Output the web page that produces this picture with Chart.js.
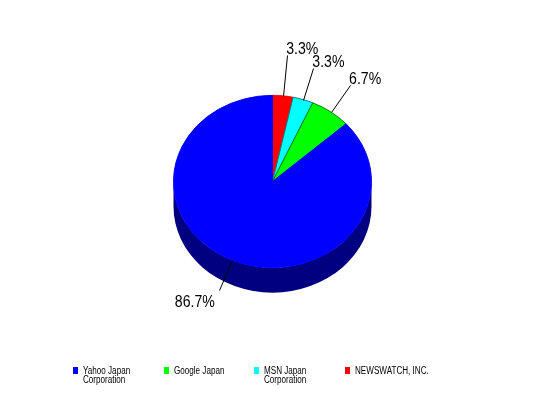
<!DOCTYPE html>
<html>
<head>
<meta charset="utf-8">
<script src="https://cdn.jsdelivr.net/npm/chart.js@4/dist/chart.umd.min.js"></script>
<style>
  html, body { margin: 0; padding: 0; background: #fff; }
  #wrap { width: 548px; height: 398px; }
</style>
</head>
<body>
<div id="wrap"><canvas id="c" width="548" height="398"></canvas></div>
<script>
// Share of responses per portal (30 in total)
const categories = ['Yahoo Japan Corporation', 'Google Japan', 'MSN Japan Corporation', 'NEWSWATCH, INC.'];
const counts = [26, 2, 1, 1];
const faceColors = ['#0000FF', '#00FF00', '#00FFFF', '#FF0000'];
const sideColors = ['#000080', '#008000', '#008080', '#800000'];
const edgeColors = ['#0000FF', '#007800', '#007878', '#FF0000'];

const total = counts.reduce((a, b) => a + b, 0);
const percentLabels = counts.map(v => (v / total * 100).toFixed(1) + '%');

// Slices run clockwise from 12 o'clock, starting with the last category
const drawOrder = categories.map((_, i) => i).reverse();
const pick = arr => drawOrder.map(i => arr[i]);

const TILT = 0.87;   // vertical squash of the top face
const DEPTH = 25;    // height of the pie's side wall
const LEADER = 33;   // default leader line length
const LABEL_FONT = '17px "Liberation Sans", Arial, sans-serif';
const LABEL_SX = 0.83;   // condensed look for the percentage labels
const LEGEND_FONT = '10px "Liberation Sans", Arial, sans-serif';
const LEGEND_SX = 0.81;

// draw text squeezed horizontally around its anchor point
function narrowText(ctx, text, x, y, align, sx) {
  ctx.save();
  ctx.translate(x, y);
  ctx.scale(sx, 1);
  ctx.textAlign = align;
  ctx.fillText(text, 0, 0);
  ctx.restore();
}

const pie3d = {
  id: 'pie3d',
  beforeDatasetsDraw(chart) {
    const arcs = chart.getDatasetMeta(0).data;
    if (!arcs.length) return;
    const ctx = chart.ctx;
    const cx = arcs[0].x, cy = arcs[0].y, r = arcs[0].outerRadius;
    const sides = pick(sideColors);
    // side wall: only the front half (0..PI) is visible
    arcs.forEach((arc, i) => {
      const s = arc.startAngle, e = arc.endAngle;
      for (const shift of [-2 * Math.PI, 0, 2 * Math.PI]) {
        const lo = Math.max(s, shift), hi = Math.min(e, Math.PI + shift);
        if (lo >= hi) continue;
        ctx.beginPath();
        ctx.ellipse(cx, cy, r, r * TILT, 0, lo, hi, false);
        ctx.ellipse(cx, cy + DEPTH, r, r * TILT, 0, hi, lo, true);
        ctx.closePath();
        ctx.fillStyle = sides[i];
        ctx.fill();
      }
    });
    // squash the top face into an ellipse
    ctx.save();
    ctx.translate(cx, cy);
    ctx.scale(1, TILT);
    ctx.translate(-cx, -cy);
  },
  afterDatasetsDraw(chart) {
    const ctx = chart.ctx;
    ctx.restore();
    const arcs = chart.getDatasetMeta(0).data;
    if (!arcs.length) return;
    const cx = arcs[0].x, cy = arcs[0].y, r = arcs[0].outerRadius;
    const texts = chart.data.datasets[0].percentText;

    ctx.save();
    ctx.font = LABEL_FONT;
    ctx.fillStyle = '#000';
    ctx.strokeStyle = '#000';
    ctx.lineWidth = 1;
    ctx.textBaseline = 'alphabetic';

    const placed = [];
    const overlaps = (a, b) => a.x1 < b.x2 && a.x2 > b.x1 && a.y1 < b.y2 && a.y2 > b.y1;
    // place labels from the last slice backwards, lengthening leaders on collision
    for (let i = arcs.length - 1; i >= 0; i--) {
      const arc = arcs[i];
      const m = (arc.startAngle + arc.endAngle) / 2;
      const c = Math.cos(m), s = Math.sin(m);
      const px = cx + r * c, py = cy + r * TILT * s;
      const w = ctx.measureText(texts[i]).width * LABEL_SX;
      const h = 13;
      let len = LEADER, lab;
      for (let k = 0; k < 60; k++) {
        const ex = px + len * c, ey = py + len * s;
        let tx, ty;
        if (s <= 0) {
          // label sits above the end of the leader
          tx = c >= 0 ? ex - 1 : ex + 1; ty = ey - 1;
        } else {
          // label hangs below the end of the leader
          tx = c >= 0 ? ex + 4 : ex - 4; ty = ey + 4 + h;
        }
        const align = c >= 0 ? 'left' : 'right';
        const box = c >= 0 ? {x1: tx, x2: tx + w, y1: ty - h, y2: ty} : {x1: tx - w, x2: tx, y1: ty - h, y2: ty};
        lab = {ex, ey, tx, ty, align, box};
        if (!placed.some(b => overlaps(b, box))) break;
        len += 1;
      }
      placed.push(lab.box);
      ctx.beginPath();
      ctx.moveTo(Math.round(px) + 0.5, Math.round(py) + 0.5);
      ctx.lineTo(Math.round(lab.ex) + 0.5, Math.round(lab.ey) + 0.5);
      ctx.stroke();
      narrowText(ctx, texts[i], lab.tx, lab.ty, lab.align, LABEL_SX);
    }
    ctx.restore();
  },
  afterDraw(chart) {
    // legend row along the bottom, in category order
    const ctx = chart.ctx;
    ctx.save();
    ctx.font = LEGEND_FONT;
    ctx.textBaseline = 'top';
    const maxW = 80, step = 90.5, x0 = 73, y0 = 367, lineH = 9;
    categories.forEach((name, i) => {
      const bx = Math.round(x0 + i * step);
      ctx.fillStyle = faceColors[i];
      ctx.fillRect(bx, y0, 5, 7);
      const words = name.split(' ');
      const lines = [];
      let cur = '';
      words.forEach(wd => {
        const t = cur ? cur + ' ' + wd : wd;
        if (cur && ctx.measureText(t).width * LEGEND_SX > maxW) { lines.push(cur); cur = wd; }
        else cur = t;
      });
      if (cur) lines.push(cur);
      ctx.fillStyle = '#000';
      lines.forEach((ln, j) => narrowText(ctx, ln, bx + 10, y0 - 1 + j * lineH, 'left', LEGEND_SX));
    });
    ctx.restore();
  }
};

new Chart(document.getElementById('c'), {
  type: 'pie',
  data: {
    labels: pick(categories),
    datasets: [{
      data: pick(counts),
      percentText: pick(percentLabels),
      backgroundColor: pick(faceColors),
      borderColor: pick(edgeColors),
      borderWidth: 1,
      clip: false
    }]
  },
  options: {
    responsive: false,
    animation: false,
    devicePixelRatio: 1,
    layout: { padding: { left: 173, right: 176, top: 82, bottom: 117 } },
    plugins: {
      legend: { display: false },
      tooltip: { enabled: false }
    },
    events: []
  },
  plugins: [pie3d]
});
</script>
</body>
</html>
